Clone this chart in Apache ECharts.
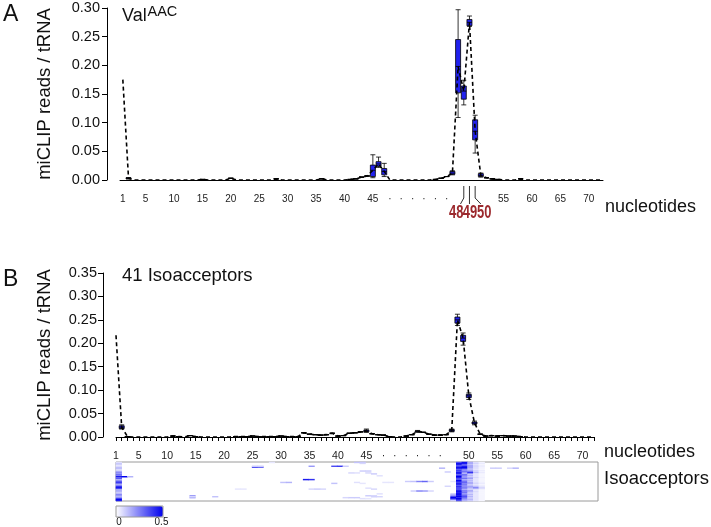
<!DOCTYPE html>
<html><head><meta charset="utf-8">
<script src="https://cdn.jsdelivr.net/npm/echarts@6/dist/echarts.min.js"></script>
<style>html,body{margin:0;padding:0;background:#fff}#c{width:711px;height:527px}</style>
</head><body><div id="c"></div>
<script>
// ---------- categories ----------
const positions = ['1','2','3','4','5','6','7','8','9','10','11','12','13','14','15','16','17','18','19','20',
 '21','22','23','24','25','26','27','28','29','30','31','32','33','34','35','36','37','38','39','40',
 '41','42','43','44','45','e1','e2','e3','e4','e5','e6','e7','e8','e9','e10','e11','e12','e13',
 '46','47','48','49','50','51','52','53','54','55','56','57','58','59','60','61','62','63','64','65',
 '66','67','68','69','70','71','72'];
const tickLabelsA = ['1','5','10','15','20','25','30','35','40','45','55','60','65','70'];
const tickLabelsB = ['1','5','10','15','20','25','30','35','40','45','50','55','60','65','70'];
const gapDots = ['e3','e5','e7','e9','e11','e13'];
const markedA = ['48','49','50'];
const yTicksA = [0, 0.30, 0.05];
const yTicksB = [0, 0.35, 0.05];

// ---------- panel A: ValAAC medians ----------
const valMedian = [
 0.175,0.003,0,0,0, 0,0,0,0,0, 0,0,0,0,0.001, 0,0,0,0,0.003, 0,0,0,0,0,
 0,0,0.002,0,0, 0,0,0,0,0, 0.002,0,0,0,0, 0.001,0.002,0.005,0.007,0.017,
 0.028,0.015,0,0,0, 0,0,0,0,0, 0.001,0.003,0.006,
 0.012,0.198,0.155,0.275,0.085, 0.008,0.004,0.002,0.001,0, 0,0,0.002,0,0,
 0,0,0,0,0, 0,0,0,0,0, 0,0];
// [min, Q1, median, Q3, max]
const valBoxes = {
 '2':[0.002,0.002,0.003,0.004,0.004],
 '45':[0.004,0.006,0.017,0.026,0.044],
 'e1':[0.022,0.024,0.028,0.032,0.040],
 'e2':[0.006,0.009,0.015,0.020,0.029],
 '46':[0.009,0.010,0.012,0.015,0.016],
 '47':[0.109,0.152,0.198,0.245,0.297],
 '48':[0.131,0.141,0.155,0.164,0.174],
 '49':[0.268,0.269,0.275,0.280,0.286],
 '50':[0.047,0.070,0.085,0.105,0.113],
 '51':[0.005,0.006,0.008,0.011,0.012]
};

// ---------- panel B: 41 isoacceptors medians ----------
const isoMedian = [
 0.217,0.021,0.001,0,0, 0,0,0,0,0, 0.002,0.001,0,0.003,0.001, 0,0,0,0,0, 0,0.001,0.001,0.001,0.002,
 0.001,0.001,0.001,0.001,0.002, 0.001,0.001,0.001,0.009,0.006, 0.005,0.004,0.005,0.008,0.002,
 0.003,0.008,0.009,0.011,0.013,
 0.007,0.005,0.004,0.001,0, 0,0.002,0.005,0.012,0.010, 0.006,0.004,0.004,
 0.005,0.014,0.250,0.211,0.088, 0.030,0.006,0.002,0.003,0.002, 0.003,0.002,0.002,0.001,0,
 0,0,0,0,0, 0,0,0,0,0, 0,0];
const isoBoxes = {
 '2':[0.017,0.018,0.021,0.024,0.026],
 '45':[0.010,0.011,0.013,0.015,0.017],
 'e9':[0.010,0.011,0.012,0.013,0.014],
 '47':[0.011,0.012,0.014,0.016,0.017],
 '48':[0.238,0.243,0.250,0.256,0.262],
 '49':[0.196,0.204,0.211,0.217,0.222],
 '50':[0.080,0.084,0.088,0.091,0.094],
 '51':[0.026,0.028,0.030,0.032,0.034]
};

// ---------- heatmap (41 isoacceptor rows, top to bottom) ----------
const heatPos1  = [0.05,0.1,0.12,0.05,0.05,0.1,0.15,0.12,0.05,0.1,0.2,0.25,0.2,0.3,0.25,0.45,0.3,0.35,0.15,0.2,0.3,0.4,0.35,0.15,0.2,0.3,0.5,0.45,0.35,0.1,0.2,0.15,0.1,0.15,0.25,0.2,0.15,0.2,0.35,0.5,0.45];
const heatPos47 = [0,0,0,0,0,0,0,0,0,0,0,0,0,0,0,0,0,0,0,0,0.05,0,0,0,0,0,0,0,0,0,0,0,0,0.1,0.15,0.2,0.35,0.5,0.45,0.3,0.1];
const heatPos48 = [0.3,0.45,0.5,0.35,0.3,0.45,0.5,0.4,0.3,0.45,0.35,0.5,0.45,0.3,0.4,0.5,0.45,0.35,0.3,0.5,0.45,0.35,0.4,0.5,0.3,0.35,0.45,0.3,0.4,0.35,0.5,0.5,0.45,0.5,0.5,0.45,0.5,0.4,0.5,0.45,0.35];
const heatPos49 = [0.45,0.5,0.35,0.25,0.4,0.5,0.5,0.35,0.2,0.25,0.3,0.2,0.15,0.3,0.25,0.2,0.2,0.3,0.15,0.2,0.25,0.35,0.2,0.3,0.2,0.25,0.2,0.3,0.2,0.15,0.3,0.25,0.3,0.2,0.25,0.3,0.35,0.3,0.25,0.2,0.15];
const heatPos50 = [0.15,0.2,0.1,0.15,0.2,0.15,0.2,0.1,0.15,0.2,0.3,0.45,0.2,0.1,0.15,0.1,0.15,0.2,0.1,0.15,0.1,0.15,0.2,0.1,0.1,0.15,0.2,0.15,0.1,0.1,0.2,0.15,0.1,0.1,0.15,0.1,0.15,0.1,0.1,0.15,0.1];
const heatPos51 = [0.05,0.1,0.05,0.05,0.1,0.05,0.08,0.05,0.05,0.1,0.08,0.15,0.05,0.05,0.05,0.05,0.08,0.05,0.05,0.05,0.05,0.05,0.1,0.05,0.05,0.1,0.15,0.3,0.1,0.05,0.05,0.08,0.05,0.05,0.05,0.05,0.05,0.05,0.05,0.05,0.05];
const heatPos52 = [0.02,0.05,0.02,0.02,0.05,0.02,0.03,0.02,0.02,0.05,0.02,0.05,0.02,0.02,0.02,0.02,0.03,0.02,0.02,0.02,0.02,0.02,0.05,0.02,0.02,0.05,0.05,0.1,0.05,0.02,0.02,0.02,0.02,0.02,0.02,0.02,0.02,0.02,0.02,0.02,0.02];
// [position, row, value]
const heatSparse = [
 ['2',15,0.5],['3',15,0.15],['25',5,0.35],['26',5,0.3],['25',4,0.1],['26',4,0.1],['35',4,0.2],
 ['39',4,0.35],['40',4,0.38],['41',4,0.1],['34',18,0.45],['35',18,0.4],['30',21,0.12],['31',21,0.15],
 ['35',28,0.08],['36',28,0.1],['37',28,0.08],['39',22,0.12],['14',35,0.2],['14',37,0.18],['14',36,0.08],
 ['18',36,0.12],['41',37,0.08],['42',37,0.1],['43',37,0.1],['28',0,0.05],['43',0,0.12],['44',0,0.12],
 ['44',1,0.08],['44',9,0.1],['45',9,0.1],['42',11,0.08],['43',11,0.06],['43',21,0.06],['44',22,0.05],
 ['e1',36,0.1],['e2',36,0.08],['e7',20,0.1],['e8',20,0.12],['e9',20,0.25],['e10',20,0.3],['e11',20,0.1],
 ['e8',30,0.1],['e9',30,0.25],['e10',30,0.2],['e11',30,0.08],['e13',6,0.15],['54',6,0.1],['55',6,0.1],
 ['57',6,0.08],['58',6,0.15],['22',28,0.05],['23',28,0.05],['46',10,0.1],['46',25,0.08],['e3',21,0.05],
 ['e4',21,0.05],['45',11,0.08],['e1',12,0.1],['e2',14,0.06],['45',27,0.06],['e1',28,0.08],['e2',33,0.06],
 ['45',35,0.1],['e1',35,0.08],['44',38,0.06],['45',38,0.05]
];
const heatColumns = {'1':heatPos1,'47':heatPos47,'48':heatPos48,'49':heatPos49,'50':heatPos50,'51':heatPos51,'52':heatPos52};
const isoRows = Array.from({length: 41}, (_, i) => 'row' + (i + 1));

// ---------- build ----------
function buildBoxes(medians, boxes) {
  const out = [];
  positions.forEach((p, i) => {
    const m = medians[i];
    if (boxes[p]) out.push([i].concat(boxes[p]));
    else if (m > 0 && m < 0.05) out.push([i, m, m, m, m, m]);
  });
  return out;
}
const heatData = [];
Object.keys(heatColumns).forEach(p => {
  heatColumns[p].forEach((v, r) => { if (v > 0) heatData.push([positions.indexOf(p), r, v]); });
});
heatSparse.forEach(d => heatData.push([positions.indexOf(d[0]), d[1], d[2]]));

const FONT = "'Liberation Sans', Arial, Helvetica, sans-serif";
const fmtCat = v => v.charAt(0) === 'e' ? '·' : v;

const chart = echarts.init(document.getElementById('c'), null, {renderer: 'canvas'});
const blue = '#2121ee';

const option = {
  backgroundColor: '#fff',
  animation: false,
  textStyle: {fontFamily: FONT},
  grid: [
    {left: 120, top: 8, width: 483, height: 172},
    {left: 116, top: 273, width: 478, height: 164},
    {left: 116, top: 462, width: 482, height: 39, show: true, borderColor: '#9a9a9a', borderWidth: 1, backgroundColor: '#fff'}
  ],
  xAxis: [
    {gridIndex: 0, type: 'category', data: positions, boundaryGap: true, offset: 6,
     axisLine: {lineStyle: {color: '#000', width: 1}},
     axisTick: {interval: (i, v) => tickLabelsA.includes(v), alignWithLabel: true, length: 4, lineStyle: {color: '#000'}},
     axisLabel: {interval: (i, v) => tickLabelsA.includes(v) || gapDots.includes(v), formatter: fmtCat,
                 fontSize: 10, color: '#222', margin: 8},
     splitLine: {show: false}},
    {gridIndex: 1, type: 'category', data: positions, boundaryGap: false, offset: 8,
     axisLine: {lineStyle: {color: '#000', width: 1}},
     axisTick: {interval: 0, length: 4, lineStyle: {color: '#000'}},
     axisLabel: {interval: (i, v) => tickLabelsB.includes(v) || gapDots.includes(v), formatter: fmtCat,
                 fontSize: 10.5, color: '#222', margin: 6},
     splitLine: {show: false}},
    {gridIndex: 2, type: 'category', data: positions, show: false}
  ],
  yAxis: [
    {gridIndex: 0, type: 'value', min: yTicksA[0], max: yTicksA[1], interval: yTicksA[2], offset: 13,
     axisLine: {show: true, lineStyle: {color: '#000'}},
     axisTick: {show: true, length: 5, lineStyle: {color: '#000'}},
     axisLabel: {formatter: v => v.toFixed(2), fontSize: 14.5, color: '#111', margin: 7},
     splitLine: {show: false},
     name: 'miCLIP reads / tRNA', nameLocation: 'middle', nameGap: 53,
     nameTextStyle: {fontSize: 18.5, color: '#111', fontFamily: FONT}},
    {gridIndex: 1, type: 'value', min: yTicksB[0], max: yTicksB[1], interval: yTicksB[2], offset: 13,
     axisLine: {show: true, lineStyle: {color: '#000'}},
     axisTick: {show: true, length: 5, lineStyle: {color: '#000'}},
     axisLabel: {formatter: v => v.toFixed(2), fontSize: 14.5, color: '#111', margin: 6},
     splitLine: {show: false},
     name: 'miCLIP reads / tRNA', nameLocation: 'middle', nameGap: 49,
     nameTextStyle: {fontSize: 18.5, color: '#111', fontFamily: FONT}},
    {gridIndex: 2, type: 'category', data: isoRows, inverse: true, show: false}
  ],
  visualMap: {
    type: 'continuous', min: 0, max: 0.5, seriesIndex: 4, orient: 'horizontal',
    left: 116, top: 506, itemWidth: 11, itemHeight: 47, calculable: false, text: null,
    padding: 0, inRange: {color: ['#ffffff', '#0000ee']}, hoverLink: false
  },
  series: [
    {type: 'boxplot', xAxisIndex: 0, yAxisIndex: 0, data: buildBoxes(valMedian, valBoxes),
     encode: {x: 0, y: [1, 2, 3, 4, 5]}, boxWidth: [5, 5], z: 2,
     itemStyle: {color: blue, borderColor: '#000', borderWidth: 0.8}},
    {type: 'line', xAxisIndex: 0, yAxisIndex: 0, data: valMedian, symbol: 'none', z: 3,
     lineStyle: {color: '#000', width: 1.6, type: [4, 3]}},
    {type: 'boxplot', xAxisIndex: 1, yAxisIndex: 1, data: buildBoxes(isoMedian, isoBoxes),
     encode: {x: 0, y: [1, 2, 3, 4, 5]}, boxWidth: [5, 5], z: 2,
     itemStyle: {color: blue, borderColor: '#000', borderWidth: 0.8}},
    {type: 'line', xAxisIndex: 1, yAxisIndex: 1, data: isoMedian, symbol: 'none', z: 3,
     lineStyle: {color: '#000', width: 1.6, type: [4, 3]}},
    {type: 'heatmap', xAxisIndex: 2, yAxisIndex: 2, data: heatData, itemStyle: {borderWidth: 0}}
  ]
};
chart.setOption(option);

// ---------- annotations ----------
const gfx = [];
const txt = (x, y, s, size, extra, elExtra) => gfx.push(Object.assign({type: 'text', x: x, y: y, silent: true,
  style: Object.assign({text: s, fontSize: size, fontFamily: FONT, fill: '#111', textAlign: 'left', textVerticalAlign: 'middle'}, extra || {})}, elExtra || {}));
txt(3, 15, 'A', 23);
txt(3, 280, 'B', 23);
txt(122, 16.5, 'Val', 18);
txt(147.5, 12, 'AAC', 14.5);
txt(122, 276, '41 Isoacceptors', 18.5);
txt(605, 207.5, 'nucleotides', 18);
txt(604, 451.7, 'nucleotides', 18);
txt(604, 478.5, 'Isoacceptors', 18.5);
txt(119, 521.5, '0', 11, {textAlign: 'center'}, {scaleX: 0.9});
txt(161.5, 521.5, '0.5', 11, {textAlign: 'center'}, {scaleX: 0.9});
gfx.push({type: 'rect', shape: {x: 116, y: 506, width: 47, height: 11}, silent: true, z: 10,
  style: {fill: 'none', stroke: '#9a9a9a', lineWidth: 1}});

const axisY = 186;
const textOff = [-7.5, 0.5, 9];
const legEnd = [-3.3, 0, 5.7];
markedA.forEach((p, k) => {
  const px = chart.convertToPixel({xAxisIndex: 0}, p);
  gfx.push({type: 'polyline', silent: true, shape: {points: [[px, axisY], [px, 198], [px + legEnd[k], 204]]},
            style: {stroke: '#333', lineWidth: 1, fill: null}});
  gfx.push({type: 'text', x: px + textOff[k], y: 213, scaleX: 0.72, silent: true,
            style: {text: p, fontSize: 18, fontWeight: 'bold', fontFamily: FONT, fill: '#9c2a2e',
                    textAlign: 'center', textVerticalAlign: 'middle'}});
});
chart.setOption({graphic: gfx});
</script></body></html>
